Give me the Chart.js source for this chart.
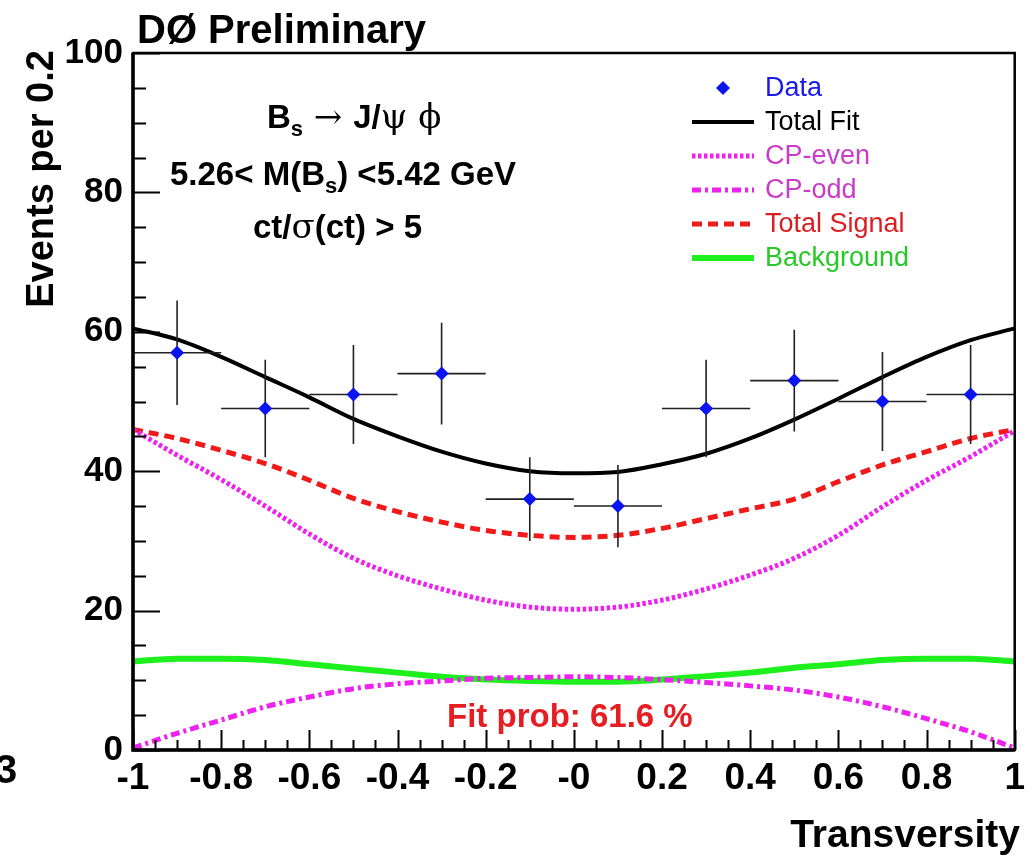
<!DOCTYPE html>
<html>
<head>
<meta charset="utf-8">
<title>Transversity</title>
<script src="https://cdn.jsdelivr.net/npm/chart.js@4.4.1/dist/chart.umd.min.js"></script>
<style>
  html, body { margin: 0; padding: 0; background: #fff; }
  #plot { display: block; }
</style>
</head>
<body>
<canvas id="plot" width="1032" height="860"></canvas>
<script>
// ---- tick labels ----
const xTickLabels = ['-1', '-0.8', '-0.6', '-0.4', '-0.2', '-0', '0.2', '0.4', '0.6', '0.8', '1'];
const yTickLabels = ['0', '20', '40', '60', '80', '100'];

// ---- binned data (bin width 0.2) ----
const binCenters = [-0.9, -0.7, -0.5, -0.3, -0.1, 0.1, 0.3, 0.5, 0.7, 0.9];
const binHalfWidth = 0.1;
const dataCounts = [57, 49, 51, 54, 36, 35, 49, 53, 50, 51];
const dataErrors = [7.5, 7.0, 7.1, 7.3, 6.0, 5.9, 7.0, 7.3, 7.1, 7.1];

// ---- fit components, sampled every 0.1 ----
const curveX = [-1, -0.9, -0.8, -0.7, -0.6, -0.5, -0.4, -0.3, -0.2, -0.1, 0,
                0.1, 0.2, 0.3, 0.4, 0.5, 0.6, 0.7, 0.8, 0.9, 1];
const totalFit = [60.5, 58.9, 56.4, 53.5, 50.6, 47.5, 45.0, 42.8, 41.1, 40.0, 39.7,
                  39.9, 41.0, 42.5, 44.7, 47.4, 50.4, 53.5, 56.4, 58.8, 60.5];
const cpEven = [46.0, 42.3, 38.8, 35.0, 31.0, 27.5, 25.0, 23.1, 21.5, 20.5, 20.2,
                20.5, 21.5, 23.1, 25.1, 27.5, 30.8, 34.9, 38.7, 42.1, 45.8];
const cpOdd = [0.3, 2.4, 4.3, 6.2, 7.6, 8.8, 9.5, 9.9, 10.3, 10.4, 10.5,
               10.4, 10.1, 9.7, 9.2, 8.6, 7.6, 6.2, 4.5, 2.6, 0.3];
const totalSignal = [46.0, 44.7, 43.0, 41.1, 38.7, 36.1, 34.2, 32.7, 31.5, 30.8, 30.5,
                     30.8, 31.8, 33.2, 34.6, 36.0, 38.5, 40.9, 42.8, 44.7, 46.0];
const background = [12.7, 13.1, 13.1, 12.9, 12.3, 11.7, 11.1, 10.5, 10.1, 9.9, 9.8,
                    9.8, 10.1, 10.6, 11.1, 11.8, 12.3, 12.9, 13.1, 13.1, 12.7];

const SANS = '"Liberation Sans", Arial, Helvetica, sans-serif';
const SERIF = '"DejaVu Serif", "Liberation Serif", serif';

function pts(ys) {
  return curveX.map((x, i) => ({ x: x, y: ys[i] }));
}

function curve(label, ys, color, width, dash, textColor) {
  return {
    type: 'line',
    label: label,
    data: pts(ys),
    borderColor: color,
    borderWidth: width,
    borderDash: dash,
    pointRadius: 0,
    fill: false,
    cubicInterpolationMode: 'monotone',
    textColor: textColor
  };
}

const datasets = [
  {
    type: 'scatter',
    label: 'Data',
    data: binCenters.map((x, i) => ({ x: x, y: dataCounts[i] })),
    pointStyle: 'rectRot',
    pointRadius: 7,
    pointBackgroundColor: '#0a14f0',
    pointBorderWidth: 0,
    textColor: '#1a1ae6'
  },
  curve('Total Fit', totalFit, '#000000', 4, [], '#000000'),
  curve('CP-even', cpEven, '#ee22ee', 5, [3.5, 2.5], '#c83cc8'),
  curve('CP-odd', cpOdd, '#ee22ee', 5, [9, 4, 3, 4], '#c83cc8'),
  curve('Total Signal', totalSignal, '#f01a1a', 5, [10, 6], '#dc1e23'),
  curve('Background', background, '#1ef01e', 6, [], '#28c828')
];

// error bars of the data points, drawn just before the markers
const errorBars = {
  id: 'errorBars',
  beforeDatasetDraw(chart, args) {
    if (args.index !== 0) return;
    const { ctx, scales: { x, y } } = chart;
    ctx.save();
    ctx.strokeStyle = '#222';
    ctx.lineWidth = 1.6;
    binCenters.forEach((c, i) => {
      const px = x.getPixelForValue(c);
      const py = y.getPixelForValue(dataCounts[i]);
      ctx.beginPath();
      ctx.moveTo(x.getPixelForValue(c - binHalfWidth), py);
      ctx.lineTo(x.getPixelForValue(c + binHalfWidth), py);
      ctx.moveTo(px, y.getPixelForValue(dataCounts[i] + dataErrors[i]));
      ctx.lineTo(px, y.getPixelForValue(dataCounts[i] - dataErrors[i]));
      ctx.stroke();
    });
    ctx.restore();
  }
};

// ROOT style frame with inward major/minor ticks
const frame = {
  id: 'frame',
  afterDraw(chart) {
    const { ctx, chartArea: a, scales: { x, y } } = chart;
    ctx.save();
    ctx.strokeStyle = '#000';
    ctx.lineWidth = 2;
    ctx.beginPath();
    for (let i = 0; i <= 40; i++) {
      const v = -1 + i * 0.05;
      const px = Math.round(x.getPixelForValue(v)) + 0.5;
      const len = i % 4 === 0 ? 20 : 10;
      ctx.moveTo(px, a.bottom);
      ctx.lineTo(px, a.bottom - len);
    }
    for (let i = 0; i <= 20; i++) {
      const v = i * 5;
      const py = Math.round(y.getPixelForValue(v)) + 0.5;
      const len = i % 4 === 0 ? 27 : 13;
      ctx.moveTo(a.left, py);
      ctx.lineTo(a.left + len, py);
    }
    ctx.stroke();
    ctx.lineWidth = 2.5;
    ctx.strokeRect(a.left, a.top, a.right - a.left, a.bottom - a.top);
    ctx.lineWidth = 3.5;
    ctx.beginPath();
    ctx.moveTo(a.left, a.top);
    ctx.lineTo(a.left, a.bottom);
    ctx.lineTo(a.right, a.bottom);
    ctx.stroke();
    ctx.restore();
  }
};

function drawRich(ctx, x, y, parts) {
  let cx = x;
  parts.forEach(p => {
    ctx.font = p.font;
    ctx.fillText(p.t, cx, y + (p.dy || 0));
    cx += ctx.measureText(p.t).width;
  });
}

// legend rows and the text annotations
const annotations = {
  id: 'annotations',
  afterDraw(chart) {
    const { ctx } = chart;
    ctx.save();
    ctx.textBaseline = 'alphabetic';
    ctx.textAlign = 'left';
    ctx.fillStyle = '#000';

    ctx.font = 'bold 40px ' + SANS;
    ctx.fillText('D\u00D8 Preliminary', 137, 43);

    const B = 'bold 33px ' + SANS;
    const SUB = 'bold 22px ' + SANS;
    const G = '34px ' + SERIF;
    drawRich(ctx, 267, 128, [
      { t: 'B', font: B }, { t: 's', font: SUB, dy: 8 },
      { t: ' \u2192 ', font: G }, { t: 'J/', font: B },
      { t: '\u03C8', font: G }, { t: ' \u03D5', font: G }
    ]);
    drawRich(ctx, 170, 185, [
      { t: '5.26< M(B', font: B }, { t: 's', font: SUB, dy: 8 },
      { t: ') <5.42 GeV', font: B }
    ]);
    drawRich(ctx, 253, 238, [
      { t: 'ct/', font: B }, { t: '\u03C3', font: G }, { t: '(ct) > 5', font: B }
    ]);

    ctx.fillStyle = '#e61e23';
    ctx.font = 'bold 33px ' + SANS;
    ctx.fillText('Fit prob: 61.6 %', 447, 727);

    ctx.fillStyle = '#000';
    ctx.font = 'bold 39px ' + SANS;
    ctx.textAlign = 'right';
    ctx.fillText('Transversity', 1020, 847);

    ctx.textAlign = 'left';
    ctx.font = 'bold 40px ' + SANS;
    ctx.fillText('3', -5, 783);

    ctx.save();
    ctx.translate(53, 179);
    ctx.rotate(-Math.PI / 2);
    ctx.textAlign = 'center';
    ctx.font = 'bold 38px ' + SANS;
    ctx.fillText('Events per 0.2', 0, 0);
    ctx.restore();

    // legend
    const rowY = [88, 122, 156, 190, 224, 258];
    ctx.font = '27px ' + SANS;
    ctx.textBaseline = 'middle';
    chart.data.datasets.forEach((ds, i) => {
      const ry = rowY[i];
      if (ds.type === 'scatter') {
        const r = ds.pointRadius;
        ctx.fillStyle = ds.pointBackgroundColor;
        ctx.beginPath();
        ctx.moveTo(723 - r, ry); ctx.lineTo(723, ry - r);
        ctx.lineTo(723 + r, ry); ctx.lineTo(723, ry + r);
        ctx.closePath();
        ctx.fill();
      } else {
        ctx.strokeStyle = ds.borderColor;
        ctx.lineWidth = ds.borderWidth;
        ctx.setLineDash(ds.borderDash);
        ctx.beginPath();
        ctx.moveTo(692, ry);
        ctx.lineTo(754, ry);
        ctx.stroke();
        ctx.setLineDash([]);
      }
      ctx.fillStyle = ds.textColor;
      ctx.fillText(ds.label, 765, ry + 1);
    });
    ctx.restore();
  }
};

new Chart(document.getElementById('plot'), {
  data: { datasets: datasets },
  options: {
    responsive: false,
    animation: false,
    layout: { padding: { top: 53, right: 9, left: 0, bottom: 0 } },
    plugins: { legend: { display: false }, tooltip: { enabled: false } },
    scales: {
      x: {
        type: 'linear',
        min: -1,
        max: 1,
        grid: { display: false, drawTicks: false },
        border: { display: false },
        afterFit(scale) { scale.height = 110; },
        ticks: {
          stepSize: 0.2,
          padding: 7,
          maxRotation: 0,
          autoSkip: false,
          color: '#000',
          font: { family: SANS, size: 37, weight: 'bold' },
          callback: (v, i) => xTickLabels[i]
        }
      },
      y: {
        min: 0,
        max: 100,
        grid: { display: false, drawTicks: false },
        border: { display: false },
        afterFit(scale) { scale.width = 133; },
        ticks: {
          stepSize: 20,
          padding: 10,
          color: '#000',
          font: { family: SANS, size: 35, weight: 'bold' },
          callback: (v, i) => yTickLabels[i]
        }
      }
    }
  },
  plugins: [errorBars, frame, annotations]
});
</script>
</body>
</html>
